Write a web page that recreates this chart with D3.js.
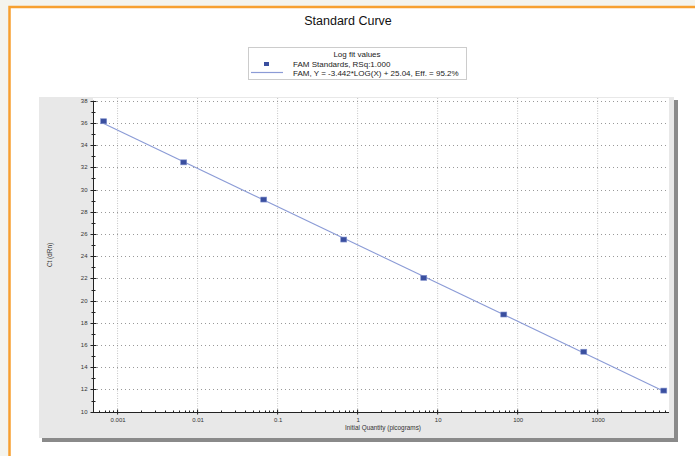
<!DOCTYPE html>
<html><head><meta charset="utf-8">
<script src="https://cdn.jsdelivr.net/npm/d3@7"></script>
<style>body{margin:0;background:#f4f4ee;}svg{display:block;font-family:"Liberation Sans",Arial,sans-serif;}</style>
</head><body><svg id="c" width="695" height="456"></svg>
<script>
const quantities = [0.00068, 0.0068, 0.068, 0.68, 6.8, 68, 680, 6800];
const ctValues = [36.15, 32.45, 29.1, 25.5, 22.05, 18.75, 15.4, 11.9];
const yTicks = [10,12,14,16,18,20,22,24,26,28,30,32,34,36,38];
const xTickLabels = ["0.001","0.01","0.1","1","10","100","1000"];
const fitSlope = -3.442, fitIntercept = 25.04;
const title = "Standard Curve";
const legendTitle = "Log fit values";
const legendItems = ["FAM Standards, RSq:1.000", "FAM, Y = -3.442*LOG(X) + 25.04, Eff. = 95.2%"];

const svg = d3.select("#c");
svg.append("rect").attr("x",0).attr("y",0).attr("width",695).attr("height",456).attr("fill","#f4f4ee");
svg.append("rect").attr("x",9.5).attr("y",7).attr("width",700).attr("height",460).attr("fill","#fff").attr("stroke","#f7a030").attr("stroke-width",2.5);
svg.append("text").attr("x",348).attr("y",25).attr("text-anchor","middle").attr("font-size",12.5).attr("fill","#111").text(title);

// legend
const lg = svg.append("g");
lg.append("rect").attr("x",248.5).attr("y",47.5).attr("width",218).attr("height",32).attr("fill","#fff").attr("stroke","#ccc");
lg.append("text").attr("x",357).attr("y",57).attr("text-anchor","middle").attr("font-size",8).attr("fill","#222").text(legendTitle);
lg.append("rect").attr("x",264).attr("y",62).attr("width",5).attr("height",4).attr("fill","#3a4f9f");
lg.append("line").attr("x1",251).attr("x2",283).attr("y1",72.5).attr("y2",72.5).attr("stroke","#8b9bd6").attr("stroke-width",1.2);
lg.append("text").attr("x",293).attr("y",67).attr("font-size",8).attr("fill","#222").text(legendItems[0]);
lg.append("text").attr("x",293).attr("y",76).attr("font-size",8).attr("fill","#222").text(legendItems[1]);

// panel
svg.append("rect").attr("x",42).attr("y",100).attr("width",636).attr("height",342).attr("fill","#8a8a8a");
svg.append("rect").attr("x",39).attr("y",97).attr("width",635).attr("height",341).attr("fill","#e8e8e8");

const L=93, R=669, T=98, B=412;
svg.append("rect").attr("x",L).attr("y",T).attr("width",R-L).attr("height",B-T).attr("fill","#fff");

const x = d3.scaleLog().domain([0.0005, 7900]).range([L, R]);
const y = d3.scaleLinear().domain([10, 38]).range([411.7, 100.7]);

// grid
const decades = xTickLabels.map(Number);
svg.append("g").selectAll("line").data(decades).join("line")
  .attr("x1",d=>x(d)+0.5).attr("x2",d=>x(d)+0.5).attr("y1",T).attr("y2",B)
  .attr("stroke","#c4c4c4").attr("stroke-dasharray","1,1.5");
svg.append("g").selectAll("line").data(yTicks.slice(1)).join("line")
  .attr("x1",L).attr("x2",R).attr("y1",d=>Math.round(y(d))+0.5).attr("y2",d=>Math.round(y(d))+0.5)
  .attr("stroke","#999").attr("stroke-dasharray","1,3");

// y axis
const yMinor = d3.range(11, 38, 2);
const yAx = svg.append("g").attr("transform",`translate(${L+0.5},0)`);
yAx.append("line").attr("y1",y(38)).attr("y2",y(10)+0.5).attr("stroke","#222");
yAx.selectAll(".ma").data(yTicks).join("line").attr("class","ma")
  .attr("x1",-3).attr("x2",3).attr("y1",d=>Math.round(y(d))+0.5).attr("y2",d=>Math.round(y(d))+0.5).attr("stroke","#222");
yAx.selectAll(".mi").data(yMinor).join("line").attr("class","mi")
  .attr("x1",-2).attr("x2",2).attr("y1",d=>Math.round(y(d))+0.5).attr("y2",d=>Math.round(y(d))+0.5).attr("stroke","#222");
yAx.selectAll("text").data(yTicks).join("text")
  .attr("x",-6).attr("y",d=>y(d)+2).attr("text-anchor","end").attr("font-size",6).attr("fill","#333").text(d=>d);

// x axis
const xMinor = x.ticks().filter(t=>t>=x.domain()[0]&&t<=x.domain()[1]);
const xAx = svg.append("g").attr("transform",`translate(0,${Math.round(y(10))+0.5})`);
xAx.append("line").attr("x1",L).attr("x2",R).attr("stroke","#222");
xAx.selectAll(".mi").data(xMinor).join("line").attr("class","mi")
  .attr("x1",d=>Math.round(x(d))+0.5).attr("x2",d=>Math.round(x(d))+0.5).attr("y1",-2).attr("y2",0).attr("stroke","#222");
xAx.selectAll(".ma").data(decades).join("line").attr("class","ma")
  .attr("x1",d=>x(d)+0.5).attr("x2",d=>x(d)+0.5).attr("y1",-3).attr("y2",2).attr("stroke","#222");
xAx.selectAll("text").data(decades).join("text")
  .attr("x",d=>x(d)+1).attr("y",9.5).attr("text-anchor","middle").attr("font-size",6).attr("fill","#333")
  .text((d,i)=>xTickLabels[i]);

svg.append("text").attr("x",383).attr("y",430).attr("text-anchor","middle").attr("font-size",6.4).attr("fill","#333").text("Initial Quantity (picograms)");
svg.append("text").attr("transform","translate(52,255) rotate(-90)").attr("text-anchor","middle").attr("font-size",6.4).attr("fill","#333").text("Ct (dRn)");

// fit line
const qMin = d3.min(quantities), qMax = d3.max(quantities);
svg.append("line")
  .attr("x1",x(qMin)).attr("y1",y(fitSlope*Math.log10(qMin)+fitIntercept))
  .attr("x2",x(qMax)).attr("y2",y(fitSlope*Math.log10(qMax)+fitIntercept))
  .attr("stroke","#8b9bd6").attr("stroke-width",1.1);

// points
svg.append("g").selectAll("rect").data(quantities).join("rect")
  .attr("x",(d)=>x(d)-3).attr("y",(d,i)=>y(ctValues[i])-2.5).attr("width",6).attr("height",5)
  .attr("fill","#3a4f9f").attr("stroke","#7f8fcc").attr("stroke-width",0.6);
</script></body></html>
